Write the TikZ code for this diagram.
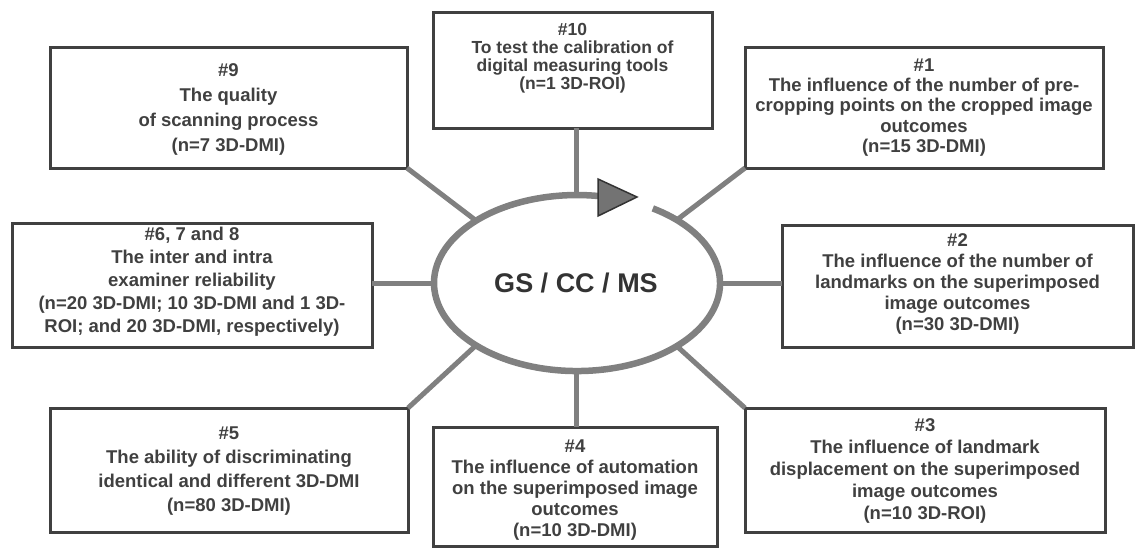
\documentclass[tikz,border=0pt]{standalone}
\usepackage{fontspec}
\setmainfont{Liberation Sans}
\usetikzlibrary{shapes.geometric}
\begin{document}
\begin{tikzpicture}[x=1pt,y=-1pt]
\tikzset{
  boxst/.style={draw=black!75, line width=3pt, rectangle, inner sep=0pt, outer sep=0pt},
  txt/.style={align=center, inner sep=0pt, text=black!75, font=\bfseries\fontsize{18.5}{#1}\selectfont},
  conn/.style={draw=black!50, line width=5pt},
  ring/.style={draw=black!50, line width=6.5pt},
}
\useasboundingbox (0,0) rectangle (1136,549);
% boxes
\node[boxst, minimum width=357, minimum height=121] (b9) at (228.5,107.5) {};
\node[boxst, minimum width=279, minimum height=116] (b10) at (572.5,70) {};
\node[boxst, minimum width=358, minimum height=121] (b1) at (924,107.5) {};
\node[boxst, minimum width=360, minimum height=124] (b6) at (192,285) {};
\node[boxst, minimum width=351, minimum height=122] (b2) at (957.5,286) {};
\node[boxst, minimum width=358, minimum height=124] (b5) at (229,470) {};
\node[boxst, minimum width=284, minimum height=119] (b4) at (575,486.5) {};
\node[boxst, minimum width=360, minimum height=124] (b3) at (925,470) {};
% texts
\node[txt=25] (t9) at (228.5,109.5) {\#9\\The quality\\of scanning process\\(n=7 3D-DMI)};
\node[txt=18, font=\bfseries\fontsize{17.5}{18}\selectfont] (t10) at (572.5,58) {\#10\\To test the calibration of\\digital measuring tools\\(n=1 3D-ROI)};
\node[txt=20.25] (t1) at (924,107.5) {\#1\\The influence of the number of pre-\\cropping points on the cropped image\\outcomes\\(n=15 3D-DMI)};
\node[txt=23] (t6) at (192,282) {\#6, 7 and 8\\The inter and intra\\examiner reliability\\(n=20 3D-DMI; 10 3D-DMI and 1 3D-\\ROI; and 20 3D-DMI, respectively)};
\node[txt=21] (t2) at (957.5,284) {\#2\\The influence of the number of\\landmarks on the superimposed\\image outcomes\\(n=30 3D-DMI)};
\node[txt=24] (t5) at (229,471) {\#5\\The ability of discriminating\\identical and different 3D-DMI\\(n=80 3D-DMI)};
\node[txt=21] (t4) at (575,490) {\#4\\The influence of automation\\on the superimposed image\\outcomes\\(n=10 3D-DMI)};
\node[txt=22] (t3) at (925,471) {\#3\\The influence of landmark\\displacement on the superimposed\\image outcomes\\(n=10 3D-ROI)};
% centre
\node[ellipse, minimum width=286, minimum height=176, inner sep=0pt, outer sep=0pt,
      text=black!80, font=\bfseries\fontsize{27}{30}\selectfont] (c) at (576,283) {GS / CC / MS};
% connectors
\draw[conn] (c.north) -- (c.north |- b10.south);
\draw[conn] (c.south) -- (c.south |- b4.north);
\draw[conn] (c.west) -- (c.west -| b6.east);
\draw[conn] (c.east) -- (c.east -| b2.west);
\draw[conn] (b9.south east) -- (c.148);
\draw[conn] (b1.south west) -- (c.32);
\draw[conn] (b5.north east) -- (c.212);
\draw[conn] (b3.north west) -- (c.328);
% cycle ring with arrow
\draw[ring] (652.8,208.4) arc[start angle=58, end angle=-279, x radius=143pt, y radius=88pt];
\draw[draw=black!80, fill=black!55, line width=1.5pt] (598,179) -- (637,197) -- (598,216) -- cycle;
\end{tikzpicture}
\end{document}
